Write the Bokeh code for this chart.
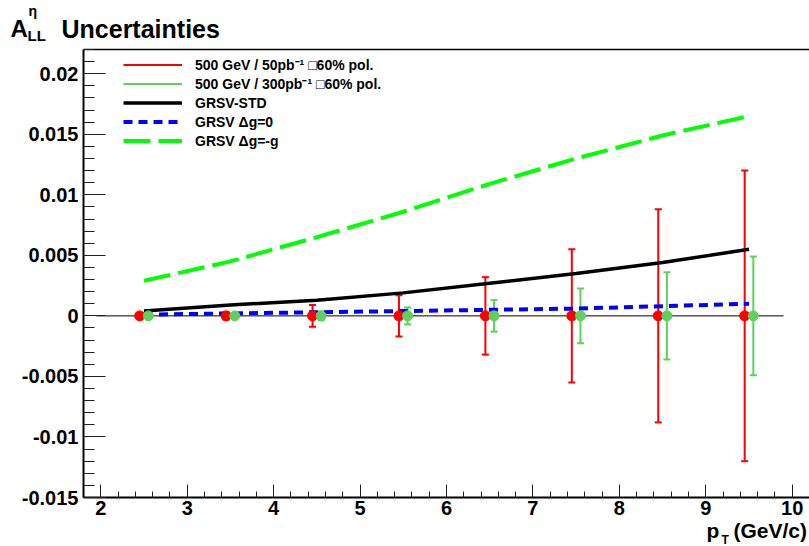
from bokeh.plotting import figure
from bokeh.models import (Range1d, Legend, LegendItem, Label, SingleIntervalTicker,
                          FixedTicker, LinearAxis, CustomJSTickFormatter)
from bokeh.embed import file_html
from bokeh.resources import INLINE

# ---------------- data ----------------
red_x = [2.45, 3.45, 4.45, 5.45, 6.45, 7.45, 8.45, 9.45]
green_x = [2.55, 3.55, 4.55, 5.55, 6.55, 7.55, 8.55, 9.55]
red_y = [0, 0, 0, 0, 0, 0, 0, 0]
green_y = [0, 0, 0, 0, 0, 0, 0, 0]
red_err = [0.0002, 0.0003, 0.0009, 0.0017, 0.0032, 0.0055, 0.0088, 0.0120]
green_err = [0.0001, 0.00012, 0.00036, 0.0007, 0.0013, 0.00226, 0.0036, 0.0049]

curve_x = [2.5, 3.5, 4.5, 5.5, 6.5, 7.5, 8.5, 9.5]
grsv_std = [0.0004, 0.0009, 0.0013, 0.0019, 0.0027, 0.0035, 0.0044, 0.0055]
grsv_dg0 = [0.0001, 0.0002, 0.0003, 0.0004, 0.0005, 0.0006, 0.0008, 0.0010]
grsv_dgm = [0.0029, 0.0045, 0.0065, 0.0086, 0.0109, 0.0130, 0.0149, 0.0165]

zero_x = [1.95, 9.9]
zero_y = [0, 0]

x_ticks_interval = 1
y_ticks_interval = 0.005
legend_labels = ["500 GeV / 50pb\u207b\u00b9 \u25a160% pol.",
                 "500 GeV / 300pb\u207b\u00b9 \u25a160% pol.",
                 "GRSV-STD",
                 "GRSV \u0394g=0",
                 "GRSV \u0394g=-g"]

# axis extents (ROOT frame)
X0, X1 = 1.8, 10.2
Y0, Y1 = -0.015, 0.022
W, H = 809, 546
FL, FR, FT, FB = 83, 809, 49, 497
FONT = "Liberation Sans"

KX = (X1 - X0) / (FR - FL)
KY = (Y1 - Y0) / (FB - FT)
XA, XB = X0 - FL * KX, X0 + (W - FL) * KX
YA, YB = Y0 - (H - FB) * KY, Y1 + FT * KY

def sx(px):
    return XA + px * KX

def sy(py):
    return YB - py * KY

p = figure(width=W, height=H, x_range=Range1d(XA, XB), y_range=Range1d(YA, YB),
           output_backend="svg", toolbar_location=None, min_border=0,
           min_border_left=0, min_border_right=0, min_border_top=0, min_border_bottom=0)
p.outline_line_color = None
p.xgrid.visible = False
p.ygrid.visible = False
p.background_fill_color = "white"
p.border_fill_color = "white"

# axes drawn at the ROOT frame edges
xax = p.xaxis[0]
yax = p.yaxis[0]
xax.fixed_location = Y0
yax.fixed_location = X0
xax.bounds = (X0, X1)
yax.bounds = (Y0, Y1)
xax.ticker = SingleIntervalTicker(interval=x_ticks_interval, num_minor_ticks=5)
yax.ticker = SingleIntervalTicker(interval=y_ticks_interval, num_minor_ticks=5)
yax.formatter = CustomJSTickFormatter(code="return String(Math.round(tick*1000)/1000);")
for ax in (xax, yax):
    ax.axis_line_width = 2
    ax.axis_line_color = "black"
    ax.major_tick_out = 0
    ax.minor_tick_out = 0
    ax.major_tick_line_color = "#222222"
    ax.minor_tick_line_color = "#222222"
    ax.major_label_text_font = FONT
    ax.major_label_text_font_style = "bold"
    ax.major_label_text_font_size = "20px"
    ax.major_label_text_color = "black"
xax.major_tick_in = 13
xax.minor_tick_in = 6
xax.major_label_standoff = 3
yax.major_tick_in = 22
yax.minor_tick_in = 11
yax.major_label_standoff = 5

top = LinearAxis(ticker=FixedTicker(ticks=[]), axis_line_width=1.5, axis_line_color="black",
                 major_tick_in=0, major_tick_out=0, minor_tick_in=0, minor_tick_out=0,
                 fixed_location=Y1, bounds=(X0, X1))
p.add_layout(top, "above")

# zero line
p.line(zero_x, zero_y, line_color="black", line_width=1)

# error bars
red_lo = [y - e for y, e in zip(red_y, red_err)]
red_hi = [y + e for y, e in zip(red_y, red_err)]
green_lo = [y - e for y, e in zip(green_y, green_err)]
green_hi = [y + e for y, e in zip(green_y, green_err)]
RED = "#ff0000"
GREEN = "#5fd05f"
r_red = p.segment(red_x, red_lo, red_x, red_hi, line_color=RED, line_width=2)
r_green = p.segment(green_x, green_lo, green_x, green_hi, line_color=GREEN, line_width=2)
p.scatter(red_x + red_x, red_lo + red_hi, marker="dash", size=7, line_color=RED, line_width=2)
p.scatter(green_x + green_x, green_lo + green_hi, marker="dash", size=7, line_color=GREEN, line_width=2)

# curves
r_std = p.line(curve_x, grsv_std, line_color="black", line_width=3.5)
r_dg0 = p.line(curve_x, grsv_dg0, line_color="#0000ff", line_width=4, line_dash="9 6")
r_dgm = p.line(curve_x, grsv_dgm, line_color="#00ff00", line_width=4, line_dash="27 8")

# markers
p.scatter(red_x, red_y, size=10, fill_color=RED, line_color=RED)
p.scatter(green_x, green_y, size=10, fill_color=GREEN, line_color=GREEN)

legend = Legend(items=[LegendItem(label=legend_labels[0], renderers=[r_red]),
                       LegendItem(label=legend_labels[1], renderers=[r_green]),
                       LegendItem(label=legend_labels[2], renderers=[r_std]),
                       LegendItem(label=legend_labels[3], renderers=[r_dg0]),
                       LegendItem(label=legend_labels[4], renderers=[r_dgm])],
                location=(123, H - 150), padding=0, margin=0, spacing=0,
                glyph_width=59, glyph_height=19, label_height=19, label_standoff=13,
                label_text_font=FONT, label_text_font_style="bold",
                label_text_font_size="14px", label_text_color="black",
                border_line_alpha=0, background_fill_alpha=0)
p.add_layout(legend)

def lab(text, px, py, size):
    p.add_layout(Label(x=sx(px), y=sy(py), text=text, text_font=FONT, text_font_style="bold",
                       text_font_size=size, text_color="black", text_align="left",
                       text_baseline="alphabetic"))

# title
lab("A", 10, 28, "24px")
lab("LL", 27, 35, "15px")
lab("\u03b7", 28, 10, "14px")
lab("Uncertainties", 61, 28, "25px")
# x axis label
lab("p", 706, 530, "21px")
lab("T", 721, 539, "12px")
lab("(GeV/c)", 733, 530, "21px")

open("out.html", "w").write(file_html(p, INLINE))
